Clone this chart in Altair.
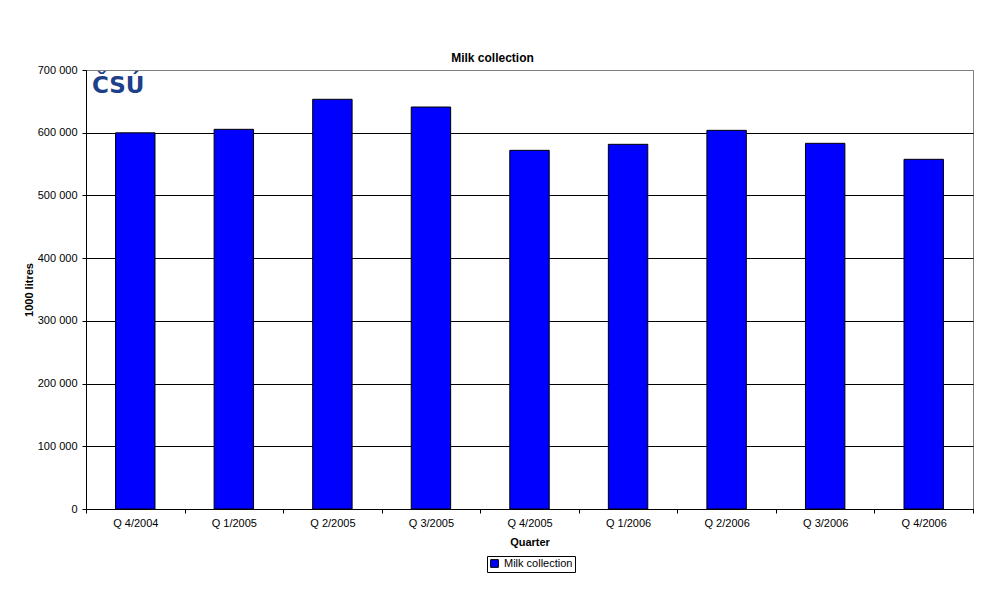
import altair as alt
import pandas as pd

quarters = ["Q 4/2004", "Q 1/2005", "Q 2/2005", "Q 3/2005", "Q 4/2005",
            "Q 1/2006", "Q 2/2006", "Q 3/2006", "Q 4/2006"]
milk = [599800, 605400, 653300, 641000, 571900, 581500, 603800, 583100, 557600]
series_name = "Milk collection"
y_ticks = [0, 100000, 200000, 300000, 400000, 500000, 600000, 700000]

df = pd.DataFrame({"Quarter": quarters, "value": milk, "series": series_name})

FONT = "Liberation Sans"

bars = alt.Chart(df).mark_bar(
    width={"band": 0.4}, stroke="black", strokeWidth=1
).encode(
    x=alt.X("Quarter:N", sort=quarters,
            scale=alt.Scale(paddingInner=0, paddingOuter=0),
            axis=alt.Axis(title="Quarter", labelAngle=0, tickBand="extent",
                          domainColor="black", tickColor="black", tickSize=4,
                          labelPadding=4, titlePadding=8, labelFontSize=11,
                          titleFontSize=11, titleFontWeight="bold",
                          labelFont=FONT, titleFont=FONT, labelColor="black",
                          titleColor="black", grid=False)),
    y=alt.Y("value:Q", scale=alt.Scale(domain=[0, 700000], nice=False),
            axis=alt.Axis(title="1000 litres", values=y_ticks,
                          format=",.0f", labelExpr="replace(datum.label, /,/g, ' ')",
                          domainColor="black", tickColor="black", tickSize=4,
                          labelPadding=5, titlePadding=3, labelFontSize=11,
                          titleFontSize=11, titleFontWeight="bold",
                          labelFont=FONT, titleFont=FONT, labelColor="black",
                          titleColor="black", grid=True,
                          gridColor=alt.condition("datum.value >= 700000",
                                                  alt.value("#808080"),
                                                  alt.value("black")),
                          gridOpacity=1)),
    color=alt.Color("series:N",
                    scale=alt.Scale(domain=[series_name], range=["#0000ff"]),
                    legend=alt.Legend(title=None, orient="none",
                                      legendX=401, legendY=486,
                                      symbolType="square", symbolSize=60,
                                      symbolStrokeColor="black",
                                      symbolStrokeWidth=1,
                                      labelFont=FONT, labelFontSize=11,
                                      labelColor="black",
                                      strokeColor="black", padding=2)),
)

logo = alt.Chart(pd.DataFrame({"t": ["ČSÚ"]})).mark_text(
    font="DejaVu Sans", fontSize=23, fontWeight="bold",
    color="#1e3f8a", align="left", baseline="top"
).encode(x=alt.value(6), y=alt.value(5), text="t:N")

chart = alt.layer(bars, logo).properties(
    width=887, height=439,
    autosize=alt.AutoSizeParams(type="none"),
    padding={"left": 78, "top": 62, "right": 6, "bottom": 80},
    title=alt.Title("Milk collection", font=FONT, fontSize=12,
                    fontWeight="bold", color="black", offset=-1, dx=-37),
).configure_view(stroke="#808080", strokeWidth=1)

chart.save("out.html", embed_options={"renderer": "svg", "actions": False})
